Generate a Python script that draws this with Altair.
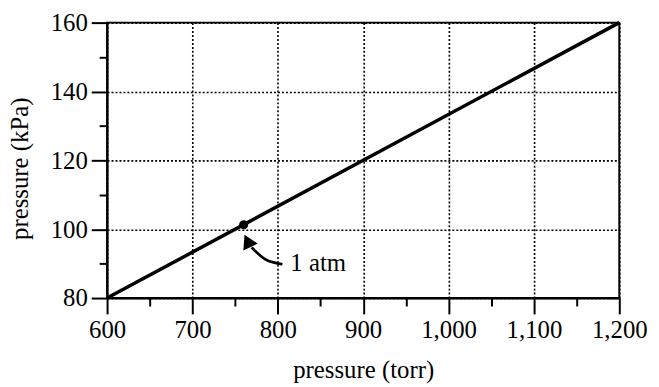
import altair as alt
import pandas as pd

# ---- data ----
torr = [600, 1200]
kpa = [80, 160]
atm_torr = [760]
atm_kpa = [101.3]

x_ticks = [600, 700, 800, 900, 1000, 1100, 1200]
y_ticks = [80, 100, 120, 140, 160]
x_minor = [650, 750, 850, 950, 1050, 1150]
y_minor = [90, 110, 130, 150]

label_text = ["1 atm"]
label_x = [814.7]
label_y = [87.8]

arrow_x = [805.4, 788.0, 776.4, 769.4]
arrow_y = [89.8, 90.9, 93.0, 94.7]
head_x = [764.5]
head_y = [96.6]

FONT = "Liberation Serif"
FS = 25

xscale = alt.Scale(domain=[600, 1200], nice=False, zero=False)
yscale = alt.Scale(domain=[80, 160], nice=False, zero=False)

common_axis = dict(
    domainColor="black", domainWidth=2, tickColor="black", tickWidth=2,
    labelColor="black", titleColor="black", labelFont=FONT, titleFont=FONT,
    labelFontSize=FS, titleFontSize=FS, titleFontWeight="normal",
    gridColor="black", gridDash=[2, 2], gridWidth=1.6, gridOpacity=1,
)

x_axis = alt.Axis(values=x_ticks, format=",d", title="pressure (torr)", orient="bottom",
                  grid=True, tickSize=16, labelPadding=4, titlePadding=15,
                  labelFlush=False, labelOverlap=False, **common_axis)
y_axis = alt.Axis(values=y_ticks, format="d", title="pressure (kPa)", orient="left",
                  grid=True, tickSize=16, labelPadding=4, titlePadding=18, titleY=147,
                  labelOverlap=False, **common_axis)

x_minor_axis = alt.Axis(values=x_minor, labels=False, title=None, orient="bottom", grid=False,
                        domain=False, tickSize=8, tickWidth=2, tickColor="black")
y_minor_axis = alt.Axis(values=y_minor, labels=False, title=None, orient="left", grid=False,
                        domain=False, tickSize=8, tickWidth=2, tickColor="black")

line_df = pd.DataFrame({"torr": torr, "kpa": kpa})
line = alt.Chart(line_df).mark_line(color="black", strokeWidth=3.5).encode(
    x=alt.X("torr:Q", scale=xscale, axis=x_axis),
    y=alt.Y("kpa:Q", scale=yscale, axis=y_axis),
)

minor = alt.Chart(line_df).mark_point(opacity=0).encode(
    x=alt.X("torr:Q", scale=xscale, axis=x_minor_axis),
    y=alt.Y("kpa:Q", scale=yscale, axis=y_minor_axis),
)

pt_df = pd.DataFrame({"torr": atm_torr, "kpa": atm_kpa})
point = alt.Chart(pt_df).mark_circle(color="black", size=85, opacity=1).encode(
    x=alt.X("torr:Q", scale=xscale, axis=None),
    y=alt.Y("kpa:Q", scale=yscale, axis=None),
)

arrow_df = pd.DataFrame({"x": arrow_x, "y": arrow_y, "i": list(range(len(arrow_x)))})
arrow = alt.Chart(arrow_df).mark_line(color="black", strokeWidth=2.6, interpolate="natural").encode(
    x=alt.X("x:Q", scale=xscale, axis=None),
    y=alt.Y("y:Q", scale=yscale, axis=None),
    order="i:O",
)

head_df = pd.DataFrame({"x": head_x, "y": head_y})
head = alt.Chart(head_df).mark_point(shape="triangle-up", filled=True, color="black",
                                     size=260, angle=334, opacity=1).encode(
    x=alt.X("x:Q", scale=xscale, axis=None),
    y=alt.Y("y:Q", scale=yscale, axis=None),
)

lab_df = pd.DataFrame({"x": label_x, "y": label_y, "t": label_text})
label = alt.Chart(lab_df).mark_text(font=FONT, fontSize=FS, align="left", baseline="alphabetic",
                                    color="black").encode(
    x=alt.X("x:Q", scale=xscale, axis=None),
    y=alt.Y("y:Q", scale=yscale, axis=None),
    text="t:N",
)

chart = alt.layer(line, minor, arrow, head, point, label).resolve_axis(
    x="independent", y="independent"
).properties(
    width=517, height=278,
    autosize=alt.AutoSizeParams(type="none"),
    padding={"left": 100, "top": 13, "right": 32, "bottom": 86},
    background="white",
).configure_view(stroke="black", strokeWidth=2)

chart.save("out.html", embed_options={"renderer": "svg", "actions": False})
